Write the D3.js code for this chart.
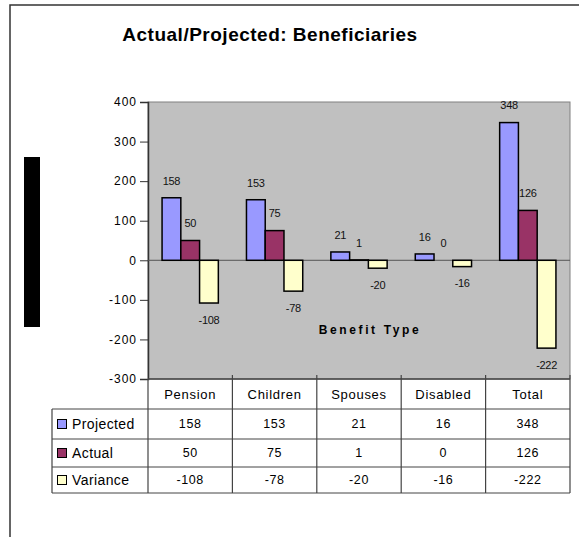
<!DOCTYPE html>
<html>
<head>
<meta charset="utf-8">
<script src="https://cdn.jsdelivr.net/npm/d3@7/dist/d3.min.js"></script>
<style>
  html, body { margin: 0; padding: 0; background: #fff; }
  svg { display: block; font-family: Arial, "Liberation Sans", sans-serif; }
</style>
</head>
<body>
<svg id="chart" width="579" height="537"></svg>
<script>
// Beneficiaries by benefit type
const categories = ["Pension", "Children", "Spouses", "Disabled", "Total"];
const seriesNames = ["Projected", "Actual", "Variance"];
const projected = [158, 153, 21, 16, 348];
const actual = [50, 75, 1, 0, 126];
const variance = [-108, -78, -20, -16, -222];
const yTicks = [-300, -200, -100, 0, 100, 200, 300, 400];

const seriesValues = [projected, actual, variance];
const colors = ["#9999FF", "#993366", "#FFFFCC"];

const svg = d3.select("#chart");

// Outer chart frame
svg.append("rect")
  .attr("x", 10).attr("y", 5).attr("width", 620).attr("height", 600)
  .attr("fill", "none").attr("stroke", "#333").attr("stroke-width", 1.5);

// Title
svg.append("text")
  .attr("x", 270).attr("y", 41)
  .attr("text-anchor", "middle")
  .attr("font-size", 19).attr("font-weight", "bold")
  .attr("letter-spacing", 0.5)
  .text("Actual/Projected: Beneficiaries");

// Side block
svg.append("rect")
  .attr("x", 24).attr("y", 157).attr("width", 16).attr("height", 170)
  .attr("fill", "#000");

const plot = { left: 148, right: 570, top: 102, bottom: 379 };

const x0 = d3.scaleBand().domain(categories).range([plot.left, plot.right]);
const barW = x0.bandwidth() / 4.5;
const x1 = d3.scaleBand().domain(seriesNames).range([0, barW * 3]);
const groupOffset = (x0.bandwidth() - barW * 3) / 2;

const y = d3.scaleLinear().domain([-300, 400]).range([plot.bottom, plot.top]);

// Plot background
svg.append("rect")
  .attr("x", plot.left).attr("y", plot.top)
  .attr("width", plot.right - plot.left).attr("height", plot.bottom - plot.top)
  .attr("fill", "#C0C0C0").attr("stroke", "#808080").attr("stroke-width", 1);

// Y axis
const yAxis = d3.axisLeft(y).tickValues(yTicks).tickSize(8).tickPadding(3)
  .tickFormat(d => String(d));
const yg = svg.append("g").attr("transform", `translate(${plot.left},0)`).call(yAxis);
yg.select(".domain").attr("stroke", "#333").attr("stroke-width", 1.5);
yg.selectAll(".tick line").attr("stroke", "#333");
yg.selectAll(".tick text").attr("font-size", 12).attr("fill", "#000")
  .attr("letter-spacing", 1)
  .attr("font-family", "Arial, 'Liberation Sans', sans-serif");

// Zero line
svg.append("line")
  .attr("x1", plot.left).attr("x2", plot.right)
  .attr("y1", y(0)).attr("y2", y(0))
  .attr("stroke", "#555").attr("stroke-width", 1);

// Bars
const barData = [];
categories.forEach((c, i) => {
  seriesNames.forEach((s, j) => {
    barData.push({ cat: c, series: s, value: seriesValues[j][i], color: colors[j] });
  });
});

const bars = svg.append("g");
bars.selectAll("rect").data(barData).join("rect")
  .attr("x", d => x0(d.cat) + groupOffset + x1(d.series))
  .attr("width", x1.bandwidth())
  .attr("y", d => Math.min(y(d.value), y(0)))
  .attr("height", d => Math.abs(y(d.value) - y(0)))
  .attr("fill", d => d.color)
  .attr("stroke", "#000").attr("stroke-width", 1.5);

// Value labels
bars.selectAll("text").data(barData).join("text")
  .attr("x", d => x0(d.cat) + groupOffset + x1(d.series) + x1.bandwidth() / 2)
  .attr("y", d => d.value >= 0 ? y(d.value) - 17 : y(d.value) + 17)
  .attr("dy", "0.35em")
  .attr("text-anchor", "middle")
  .attr("font-size", 11).attr("fill", "#111")
  .attr("letter-spacing", -0.3)
  .text(d => d.value);

// Axis title
svg.append("text")
  .attr("x", 370).attr("y", 334)
  .attr("text-anchor", "middle")
  .attr("font-size", 12).attr("font-weight", "bold")
  .attr("letter-spacing", 2.6)
  .text("Benefit Type");

// Data table
const rowLines = [plot.bottom, 409, 439, 467, 493];
const tableLeft = 52;
const lineColor = "#444";
const table = svg.append("g");

// Horizontal rules
rowLines.slice(1).forEach(ry => {
  table.append("line")
    .attr("x1", tableLeft).attr("x2", plot.right)
    .attr("y1", ry).attr("y2", ry)
    .attr("stroke", lineColor).attr("stroke-width", 1);
});
table.append("line")
  .attr("x1", plot.left).attr("x2", plot.right)
  .attr("y1", plot.bottom).attr("y2", plot.bottom)
  .attr("stroke", lineColor).attr("stroke-width", 1.5);

// Vertical rules
const colEdges = categories.map(c => x0(c)).concat([plot.right]);
colEdges.forEach(cx => {
  table.append("line")
    .attr("x1", cx).attr("x2", cx)
    .attr("y1", cx === plot.left ? plot.bottom : plot.bottom - 4).attr("y2", rowLines[4])
    .attr("stroke", lineColor).attr("stroke-width", 1.2);
});
table.append("line")
  .attr("x1", tableLeft).attr("x2", tableLeft)
  .attr("y1", rowLines[1]).attr("y2", rowLines[4])
  .attr("stroke", lineColor).attr("stroke-width", 1.2);

// Category headers
table.selectAll("text.head").data(categories).join("text")
  .attr("class", "head")
  .attr("x", d => x0(d) + x0.bandwidth() / 2)
  .attr("y", (rowLines[0] + rowLines[1]) / 2)
  .attr("dy", "0.35em")
  .attr("text-anchor", "middle")
  .attr("font-size", 13).attr("letter-spacing", 0.7)
  .text(d => d);

// Series rows with legend keys
seriesNames.forEach((s, j) => {
  const cy = (rowLines[j + 1] + rowLines[j + 2]) / 2;
  table.append("rect")
    .attr("x", 57.5).attr("y", cy - 4.5).attr("width", 9).attr("height", 9)
    .attr("fill", colors[j]).attr("stroke", "#000").attr("stroke-width", 1);
  table.append("text")
    .attr("x", 72).attr("y", cy).attr("dy", "0.35em")
    .attr("font-size", 14).attr("letter-spacing", 0.4)
    .text(s);
  table.selectAll(null).data(categories).join("text")
    .attr("x", d => x0(d) + x0.bandwidth() / 2)
    .attr("y", cy).attr("dy", "0.35em")
    .attr("text-anchor", "middle")
    .attr("font-size", 12.5).attr("letter-spacing", 0.6)
    .text((d, i) => seriesValues[j][i]);
});
</script>
</body>
</html>
